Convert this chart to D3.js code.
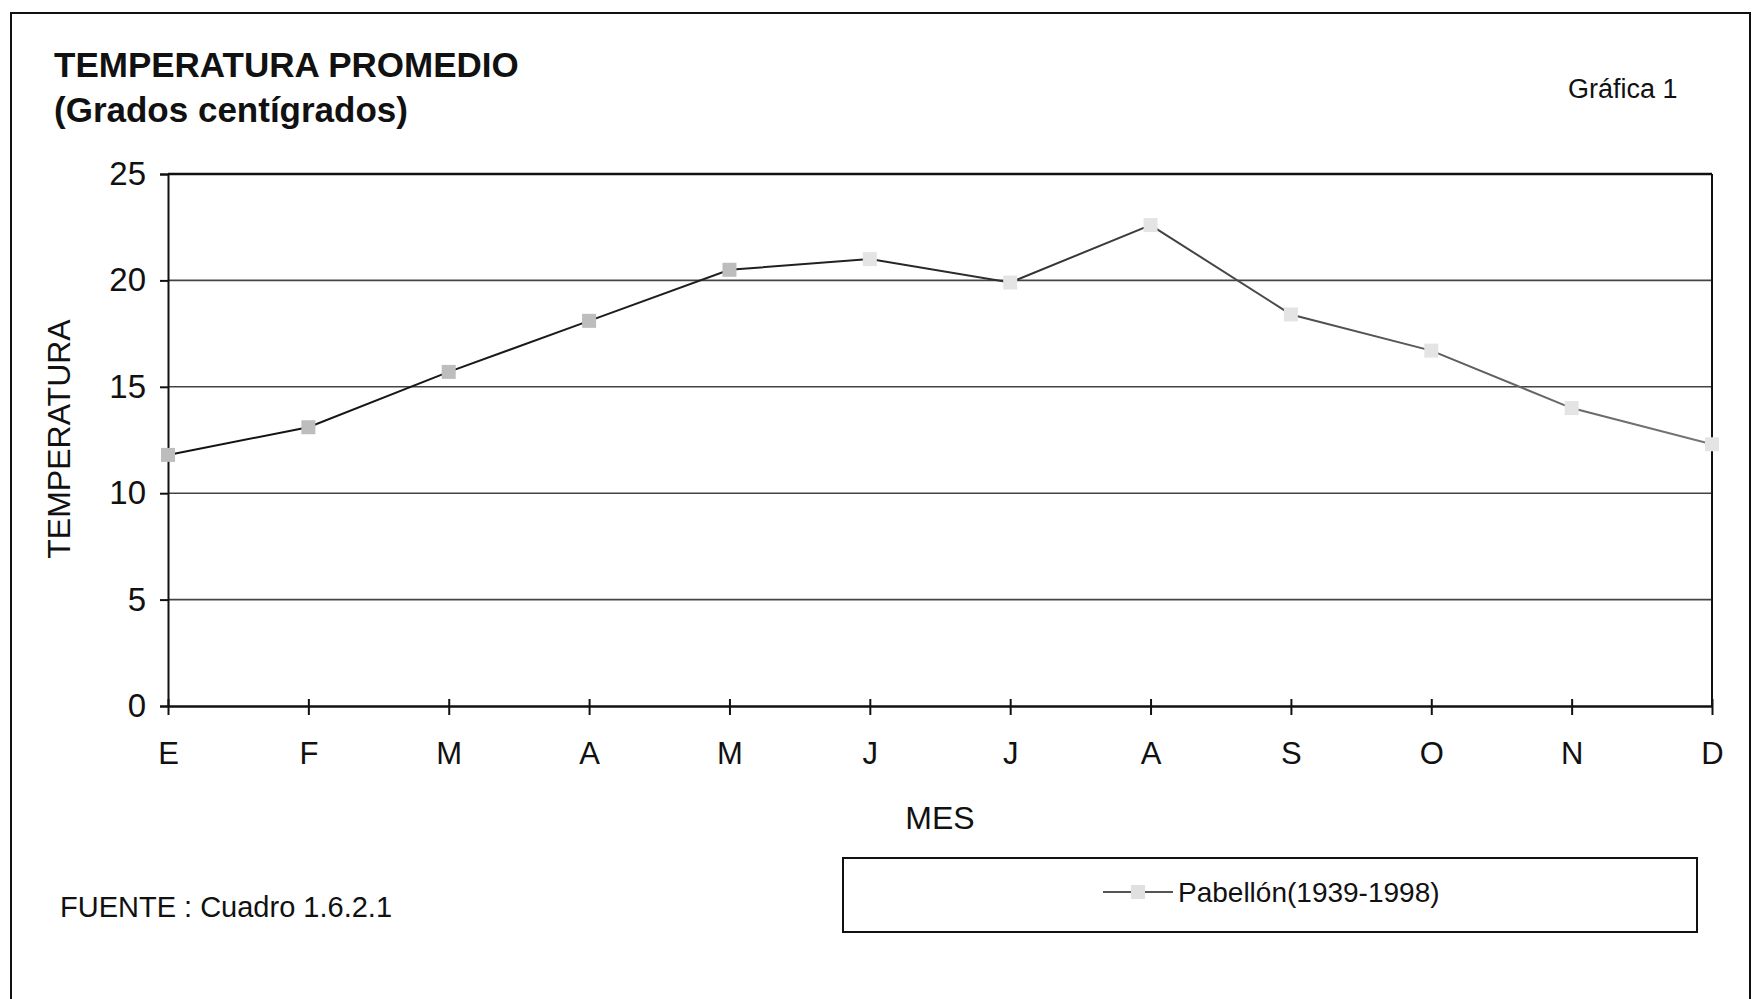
<!DOCTYPE html>
<html>
<head>
<meta charset="utf-8">
<script src="https://d3js.org/d3.v7.min.js"></script>
<style>
  body { margin: 0; background: #fff; }
  svg { display: block; font-family: "Liberation Sans", Arial, sans-serif; }
  .tick text { font-family: "Liberation Sans", Arial, sans-serif; }
</style>
</head>
<body>
<script>
// months and mean temperature (Pabellón 1939-1998)
var months = ["E", "F", "M", "A", "M", "J", "J", "A", "S", "O", "N", "D"];
var temps = [11.8, 13.1, 15.7, 18.1, 20.5, 21.0, 19.9, 22.6, 18.4, 16.7, 14.0, 12.3];
var yTicks = [0, 5, 10, 15, 20, 25];
var seriesName = "Pabellón(1939-1998)";

var W = 1756, H = 999;
var margin = {top: 174, left: 168, right: 44, bottom: 293};
var width = W - margin.left - margin.right,
    height = H - margin.top - margin.bottom;

var svg = d3.select("body").append("svg")
    .attr("width", W)
    .attr("height", H);

// outer frame of the page
svg.append("rect")
    .attr("x", 11).attr("y", 13)
    .attr("width", 1739).attr("height", 1010)
    .attr("fill", "none").attr("stroke", "#111").attr("stroke-width", 2);

svg.append("text").attr("x", 54).attr("y", 77)
    .attr("font-size", 35).attr("font-weight", "bold").attr("fill", "#111")
    .text("TEMPERATURA PROMEDIO");
svg.append("text").attr("x", 54).attr("y", 122)
    .attr("font-size", 35).attr("font-weight", "bold").attr("fill", "#111")
    .text("(Grados centígrados)");
svg.append("text").attr("x", 1568).attr("y", 98)
    .attr("font-size", 27).attr("fill", "#111")
    .text("Gráfica 1");

var g = svg.append("g")
    .attr("transform", "translate(" + margin.left + "," + margin.top + ")");

var x = d3.scalePoint().domain(d3.range(months.length)).range([0, width]);
var y = d3.scaleLinear().domain([0, 25]).range([height, 0]);

// gridlines
g.selectAll(".grid")
    .data(yTicks.filter(function(d) { return d > 0 && d < 25; }))
    .enter().append("line")
    .attr("x1", 0).attr("x2", width)
    .attr("y1", function(d) { return y(d); })
    .attr("y2", function(d) { return y(d); })
    .attr("stroke", "#444").attr("stroke-width", 1.6);

// plot area frame (top and right)
g.append("line").attr("x1", 0).attr("x2", width).attr("y1", 0).attr("y2", 0)
    .attr("stroke", "#111").attr("stroke-width", 2.5);
g.append("line").attr("x1", width).attr("x2", width).attr("y1", 0).attr("y2", height)
    .attr("stroke", "#111").attr("stroke-width", 2);

// y axis
var yAxis = g.append("g")
    .call(d3.axisLeft(y).tickValues(yTicks).tickSize(8).tickPadding(14));
yAxis.select(".domain").attr("stroke", "#111").attr("stroke-width", 2);
yAxis.selectAll(".tick line").attr("stroke", "#111").attr("stroke-width", 2);
yAxis.selectAll(".tick text").attr("font-size", 33).attr("fill", "#111");

// x axis
var xAxis = g.append("g")
    .attr("transform", "translate(0," + height + ")")
    .call(d3.axisBottom(x).tickFormat(function(i) { return months[i]; })
        .tickSizeInner(9).tickSizeOuter(0).tickPadding(27));
xAxis.select(".domain").attr("stroke", "#111").attr("stroke-width", 2.5);
xAxis.selectAll(".tick line").attr("y1", -7).attr("stroke", "#111").attr("stroke-width", 2);
xAxis.selectAll(".tick text").attr("font-size", 31).attr("fill", "#111");

// axis titles
svg.append("text").attr("x", 940).attr("y", 829)
    .attr("text-anchor", "middle").attr("font-size", 32).attr("fill", "#111")
    .text("MES");
svg.append("text")
    .attr("transform", "translate(70,439) rotate(-90)")
    .attr("text-anchor", "middle").attr("font-size", 32).attr("fill", "#111")
    .text("TEMPERATURA");

// series line, fading from dark to grey like the scan
var grad = svg.append("defs").append("linearGradient")
    .attr("id", "fade").attr("gradientUnits", "userSpaceOnUse")
    .attr("x1", 0).attr("x2", width).attr("y1", 0).attr("y2", 0);
grad.append("stop").attr("offset", "0%").attr("stop-color", "#111");
grad.append("stop").attr("offset", "45%").attr("stop-color", "#222");
grad.append("stop").attr("offset", "100%").attr("stop-color", "#777");

var line = d3.line()
    .x(function(d, i) { return x(i); })
    .y(function(d) { return y(d); });

g.append("path")
    .datum(temps)
    .attr("d", line)
    .attr("fill", "none")
    .attr("stroke", "url(#fade)")
    .attr("stroke-width", 2);

var ms = 14;
g.selectAll(".pt")
    .data(temps)
    .enter().append("rect")
    .attr("x", function(d, i) { return x(i) - ms / 2; })
    .attr("y", function(d) { return y(d) - ms / 2; })
    .attr("width", ms).attr("height", ms)
    .attr("fill", function(d, i) { return i < 5 ? "#bdbdbd" : "#e4e4e4"; });

// source note
svg.append("text").attr("x", 60).attr("y", 917)
    .attr("font-size", 29).attr("fill", "#111")
    .text("FUENTE : Cuadro 1.6.2.1");

// legend
svg.append("rect")
    .attr("x", 843).attr("y", 858).attr("width", 854).attr("height", 74)
    .attr("fill", "none").attr("stroke", "#111").attr("stroke-width", 2);
svg.append("line").attr("x1", 1103).attr("x2", 1173).attr("y1", 892).attr("y2", 892)
    .attr("stroke", "#555").attr("stroke-width", 2);
svg.append("rect").attr("x", 1131).attr("y", 885).attr("width", 14).attr("height", 14)
    .attr("fill", "#e0e0e0");
svg.append("text").attr("x", 1178).attr("y", 902)
    .attr("font-size", 28).attr("fill", "#111")
    .text(seriesName);
</script>
</body>
</html>
